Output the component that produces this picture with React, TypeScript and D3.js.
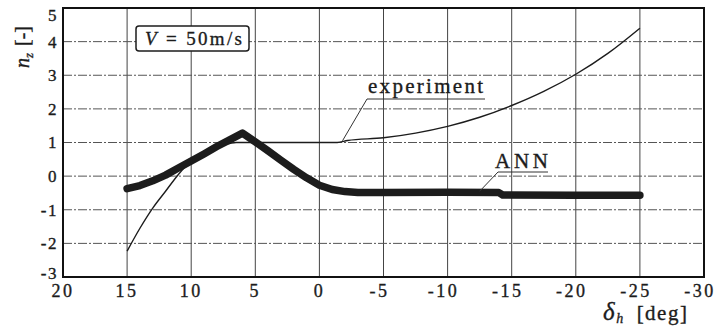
import React from 'react';
import * as d3 from 'd3';

// elevator deflection [deg] and load factor n_z
const expDelta = [15, 14, 13, 12, 11, 10, 9, 8, 7, 6.5, 4, 2, 0, -1.4, -2.2, -5, -7.5, -10, -12.5, -15, -17.5, -20, -22.5, -25];
const expNz = [-2.23, -1.55, -0.95, -0.45, 0.05, 0.45, 0.7, 0.88, 0.97, 1.0, 1.0, 1.0, 1.0, 1.0, 1.06, 1.14, 1.28, 1.48, 1.75, 2.1, 2.52, 3.03, 3.65, 4.4];

const annDelta = [15, 14, 13, 12, 11, 10, 9, 8, 7, 6, 5, 4, 3, 2, 1, 0, -1, -2, -3, -5, -10, -14, -14.3, -20, -25];
const annNz = [-0.37, -0.28, -0.14, 0.03, 0.24, 0.45, 0.66, 0.88, 1.08, 1.28, 1.02, 0.75, 0.47, 0.2, -0.05, -0.27, -0.4, -0.46, -0.49, -0.49, -0.48, -0.49, -0.56, -0.57, -0.57];

const xTicks = [20, 15, 10, 5, 0, -5, -10, -15, -20, -25, -30];
const yTicks = [-3, -2, -1, 0, 1, 2, 3, 4, 5];

const W = 715, H = 330;
const left = 63, right = 704, top = 8, bottom = 277;
const ink = '#1c1c1c';

export default function App() {
  const x = d3.scaleLinear().domain([20, -30]).range([left, right]);
  const y = d3.scaleLinear().domain([-3, 5]).range([bottom, top]);

  const expLine = d3.line<number>().x((_, i) => x(expDelta[i])).y(d => y(d)).curve(d3.curveMonotoneX);
  const annLine = d3.line<number>().x((_, i) => x(annDelta[i])).y(d => y(d)).curve(d3.curveLinear);

  // end labels sit inside the frame, like in the print
  const yLabelShift = (t: number) => (t === 5 ? 7 : t === -3 ? -4 : 0);

  return (
    <svg width={W} height={H}
      style={{ position: 'absolute', left: 0, top: 0, background: '#fff', fontFamily: "'Liberation Serif', 'Times New Roman', serif" }}>
      {/* grid */}
      {xTicks.slice(1, -1).map(t => (
        <line key={'gx' + t} x1={x(t)} x2={x(t)} y1={top} y2={bottom} stroke="#444" strokeWidth={1} />
      ))}
      {yTicks.slice(1, -1).map(t => (
        <line key={'gy' + t} x1={left} x2={right} y1={y(t)} y2={y(t)} stroke="#555" strokeWidth={1} strokeDasharray="9 2 2 2" />
      ))}

      {/* curves */}
      <path d={expLine(expNz) || ''} fill="none" stroke={ink} strokeWidth={1.4} />
      <path d={annLine(annNz) || ''} fill="none" stroke={ink} strokeWidth={7.5} strokeLinecap="round" strokeLinejoin="round" />

      {/* frame */}
      <rect x={left} y={top} width={right - left} height={bottom - top} fill="none" stroke="#111" strokeWidth={2} />

      <g fill={ink} stroke={ink} strokeWidth={0.35}>
        {/* tick labels */}
        {yTicks.map(t => (
          <text key={'ty' + t} x={58} y={y(t) + yLabelShift(t)} dy="0.35em" textAnchor="end" fontSize={17} letterSpacing={1.5}>{t}</text>
        ))}
        {xTicks.map(t => (
          <text key={'tx' + t} x={x(t) - (t < 0 ? 4 : 0)} y={297} textAnchor="middle" fontSize={18} letterSpacing={2.5}>{t}</text>
        ))}

        {/* axis titles */}
        <text transform="translate(29,47) rotate(-90)" textAnchor="middle" fontSize={20}>
          <tspan fontStyle="italic">n</tspan>
          <tspan fontStyle="italic" fontSize={13} dy={4}>z</tspan>
          <tspan dy={-4} dx={7}>[-]</tspan>
        </text>
        <text x={603} y={320} fontSize={21} letterSpacing={1.5}>
          <tspan fontStyle="italic" fontSize={25}>δ</tspan>
          <tspan fontStyle="italic" fontSize={14} dy={3}>h</tspan>
          <tspan dy={-3} dx={12}>[deg]</tspan>
        </text>
      </g>

      {/* speed box */}
      <rect x={136} y={26} width={113} height={25} rx={3} fill="#fff" stroke={ink} strokeWidth={1.5} />
      <g fill={ink} stroke={ink} strokeWidth={0.35}>
        <text x={145} y={45} fontSize={19} textLength={97} lengthAdjust="spacing">
          <tspan fontStyle="italic">V</tspan>
          <tspan> = 50m/s</tspan>
        </text>

        {/* annotations */}
        <text x={368} y={93} fontSize={21} textLength={115} lengthAdjust="spacing">experiment</text>
        <text x={495} y={168} fontSize={21} textLength={53} lengthAdjust="spacing">ANN</text>
      </g>
      <polyline points={`${x(-1.8)},${y(1.05)} 367,99 485,99`} fill="none" stroke="#333" strokeWidth={1} />
      <polyline points={`${x(-12.5)},${y(-0.45)} 498,172 548,172`} fill="none" stroke="#333" strokeWidth={1} />
    </svg>
  );
}
